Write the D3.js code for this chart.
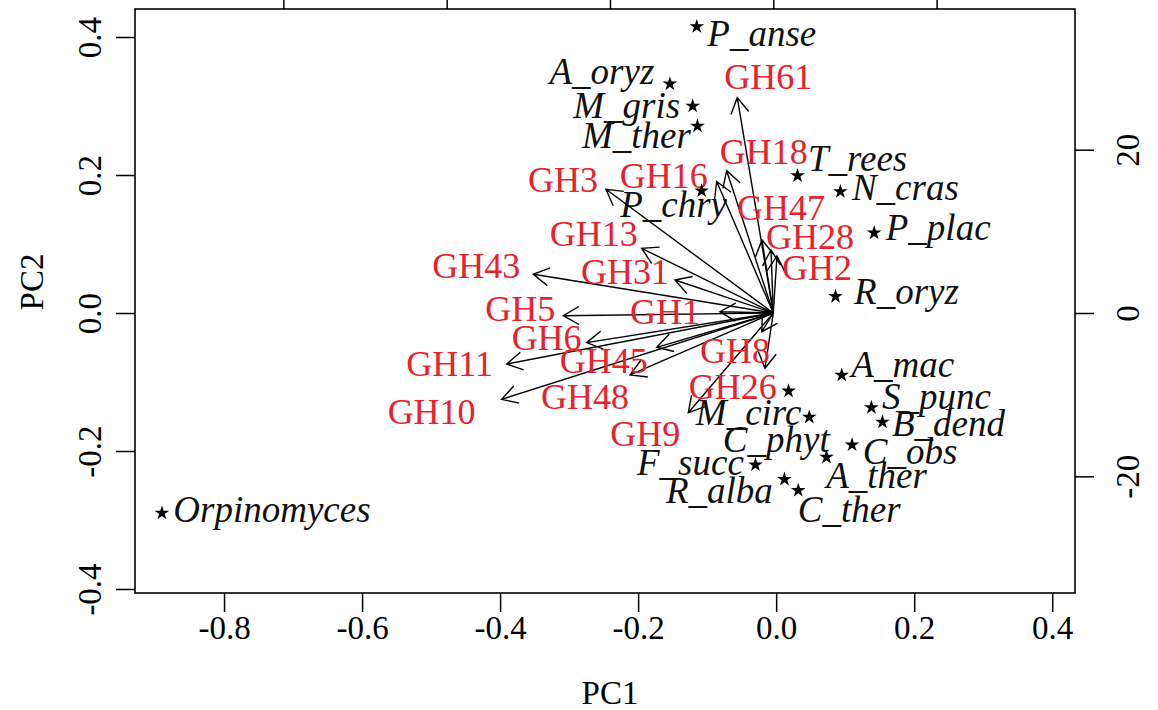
<!DOCTYPE html>
<html>
<head>
<meta charset="utf-8">
<script src="https://cdn.jsdelivr.net/npm/d3@7"></script>
<style>
  body { margin: 0; background: #ffffff; }
  text { font-family: "Liberation Serif", "DejaVu Serif", serif; }
</style>
</head>
<body>
<svg id="chart" width="1158" height="710"></svg>
<script>
// ---------------- DATA ----------------
// Species scores (primary PC1 / PC2 scale)
const speciesNames = ["P_anse","A_oryz","M_gris","M_ther","T_rees","N_cras","P_plac","P_chry","R_oryz",
  "A_mac","S_punc","B_dend","C_obs","A_ther","C_ther","R_alba","F_succ","M_circ","C_phyt","Orpinomyces"];
const speciesPC1 = [-0.115,-0.154,-0.121,-0.114, 0.031, 0.093, 0.142,-0.108, 0.086,
   0.095, 0.138, 0.154, 0.110, 0.073, 0.032, 0.012,-0.030, 0.018, 0.048,-0.890];
const speciesPC2 = [ 0.415, 0.332, 0.300, 0.271, 0.199, 0.176, 0.116, 0.177, 0.024,
  -0.090,-0.137,-0.158,-0.191,-0.209,-0.257,-0.241,-0.220,-0.113,-0.151,-0.290];

// Glycoside hydrolase loadings (secondary scale, top / right axes)
const ghNames = ["GH61","GH18","GH16","GH3","GH47","GH13","GH28","GH2","GH43","GH31",
  "GH5","GH1","GH6","GH11","GH45","GH48","GH10","GH8","GH26","GH9"];
const ghPC1 = [ -4.41, -5.71, -6.93,-20.49, -1.38,-16.12, -0.28,  0.45,-29.39,-12.04,
  -25.72, -6.53,-22.86,-32.65,-14.28,-17.55,-33.27, -1.02, -1.41,-10.41];
const ghPC2 = [ 26.37, 17.43, 16.10, 15.15,  8.94,  7.92,  7.72,  6.98,  4.74,  4.04,
   -0.33,  0.16, -3.63, -6.25, -4.20, -7.59,-10.57, -6.77, -2.29,-12.21];

// Axis ticks
const xTicks = [-0.8,-0.6,-0.4,-0.2,0.0,0.2,0.4];
const yTicks = [-0.4,-0.2,0.0,0.2,0.4];
const topTicks = [-60,-40,-20,0,20];
const rightTicks = [-20,0,20];
const xTitle = "PC1", yTitle = "PC2";

// ---------------- LAYOUT (label placement, pixels) ----------------
const speciesLabelDx = [ 65,-68,-66,-61, 60, 65, 64,-28, 71, 61, 65, 66, 58, 50, 51,-65,-65,-40,-33,110];
const speciesLabelDy = [  7,-12,  0, 10,-17, -4, -5, 14, -5,-10,-11,  2,  7, 19, 19, 11, -2, 22, 23, -3];
const ghLabelDx = [ 31, 37,-53,-43, 19,-48, 39, 40,-57,-50,-43,-55,-40,-57,-53,-45,-70,-30,-29,-43];
const ghLabelDy = [-21,-19, -5, -9,-32,-14,-13, 12, -8, -8, -7,  0, -5,  0, 14, 22, 13,-17, 55, 21];

const box = {left: 135, right: 1075, top: 9, bottom: 593};

// ---------------- SCALES ----------------
const x = d3.scaleLinear().domain([-0.929, 0.433]).range([box.left, box.right]);
const y = d3.scaleLinear().domain([-0.4058, 0.4406]).range([box.bottom, box.top]);
const x2 = d3.scaleLinear().domain([-78.17, 36.95]).range([box.left, box.right]);
const y2 = d3.scaleLinear().domain([-34.29, 37.23]).range([box.bottom, box.top]);

const svg = d3.select("#chart");
const fmt = d => d.toFixed(1);
const tickSize = 19;
const tickFont = 33;

// bottom axis
const gB = svg.append("g").attr("transform", `translate(0,${box.bottom})`)
  .call(d3.axisBottom(x).tickValues(xTicks).tickFormat(fmt).tickSize(tickSize).tickPadding(4));
// left axis
const gL = svg.append("g").attr("transform", `translate(${box.left},0)`)
  .call(d3.axisLeft(y).tickValues(yTicks).tickFormat(fmt).tickSize(tickSize).tickPadding(4));
// top axis (secondary; its labels fall outside the picture)
const gT = svg.append("g").attr("transform", `translate(0,${box.top})`)
  .call(d3.axisTop(x2).tickValues(topTicks).tickFormat("").tickSize(tickSize));
// right axis (secondary)
const gR = svg.append("g").attr("transform", `translate(${box.right},0)`)
  .call(d3.axisRight(y2).tickValues(rightTicks).tickFormat(d => String(d)).tickSize(tickSize).tickPadding(4));

[gB, gL, gT, gR].forEach(g => {
  g.select(".domain").remove();
  g.selectAll(".tick line").attr("stroke", "#000").attr("stroke-width", 1.5);
  g.selectAll(".tick text").attr("fill", "#000").attr("font-size", tickFont)
    .attr("font-family", "Liberation Serif");
});
gT.selectAll(".tick text").remove();
gB.selectAll(".tick text").attr("y", 0).attr("dy", 0)
  .attr("transform", "translate(0,46)");
// rotate left / right labels (parallel to axis)
gL.selectAll(".tick text").attr("x", 0).attr("dy", 0).attr("text-anchor", "middle")
  .attr("transform", "translate(-45,0) rotate(-90)")
  .attr("dominant-baseline", "central");
gR.selectAll(".tick text").attr("x", 0).attr("dy", 0).attr("text-anchor", "middle")
  .attr("transform", "translate(53,0) rotate(-90)")
  .attr("dominant-baseline", "central");

// box
svg.append("rect")
  .attr("x", box.left).attr("y", box.top)
  .attr("width", box.right - box.left).attr("height", box.bottom - box.top)
  .attr("fill", "none").attr("stroke", "#000").attr("stroke-width", 1.6);

// axis titles
svg.append("text").attr("x", 610).attr("y", 704).attr("text-anchor", "middle")
  .attr("font-size", tickFont).attr("fill", "#000").text(xTitle);
svg.append("text").attr("transform", "translate(32,282) rotate(-90)")
  .attr("text-anchor", "middle").attr("dominant-baseline", "central")
  .attr("font-size", tickFont).attr("fill", "#000").text(yTitle);

// ---------------- ARROWS ----------------
const ox = x2(0), oy = y2(0);
const headLen = 18, headAng = Math.PI / 6;
const arrows = svg.append("g").attr("stroke", "#000").attr("stroke-width", 1.4).attr("fill", "none");
ghNames.forEach((name, i) => {
  const tx = x2(ghPC1[i]), ty = y2(ghPC2[i]);
  const a = Math.atan2(ty - oy, tx - ox);
  const p1 = [tx - headLen * Math.cos(a - headAng), ty - headLen * Math.sin(a - headAng)];
  const p2 = [tx - headLen * Math.cos(a + headAng), ty - headLen * Math.sin(a + headAng)];
  arrows.append("path")
    .attr("d", `M${ox},${oy}L${tx},${ty}M${p1[0]},${p1[1]}L${tx},${ty}L${p2[0]},${p2[1]}`);
});

// GH labels
svg.append("g").selectAll("text").data(ghNames).join("text")
  .attr("x", (d, i) => x2(ghPC1[i]) + ghLabelDx[i])
  .attr("y", (d, i) => y2(ghPC2[i]) + ghLabelDy[i])
  .attr("dy", "0.33em")
  .attr("text-anchor", "middle")
  .attr("font-size", 36)
  .attr("fill", "#e8212b")
  .text(d => d);

// ---------------- SPECIES ----------------
const star = d3.symbol().type(d3.symbolStar).size(66);
svg.append("g").selectAll("path").data(speciesNames).join("path")
  .attr("d", star)
  .attr("transform", (d, i) => `translate(${x(speciesPC1[i])},${y(speciesPC2[i])})`)
  .attr("fill", "#000");

svg.append("g").selectAll("text").data(speciesNames).join("text")
  .attr("x", (d, i) => x(speciesPC1[i]) + speciesLabelDx[i])
  .attr("y", (d, i) => y(speciesPC2[i]) + speciesLabelDy[i])
  .attr("dy", "0.33em")
  .attr("text-anchor", "middle")
  .attr("font-size", 37)
  .attr("font-style", "italic")
  .attr("fill", "#111")
  .text(d => d);
</script>
</body>
</html>
